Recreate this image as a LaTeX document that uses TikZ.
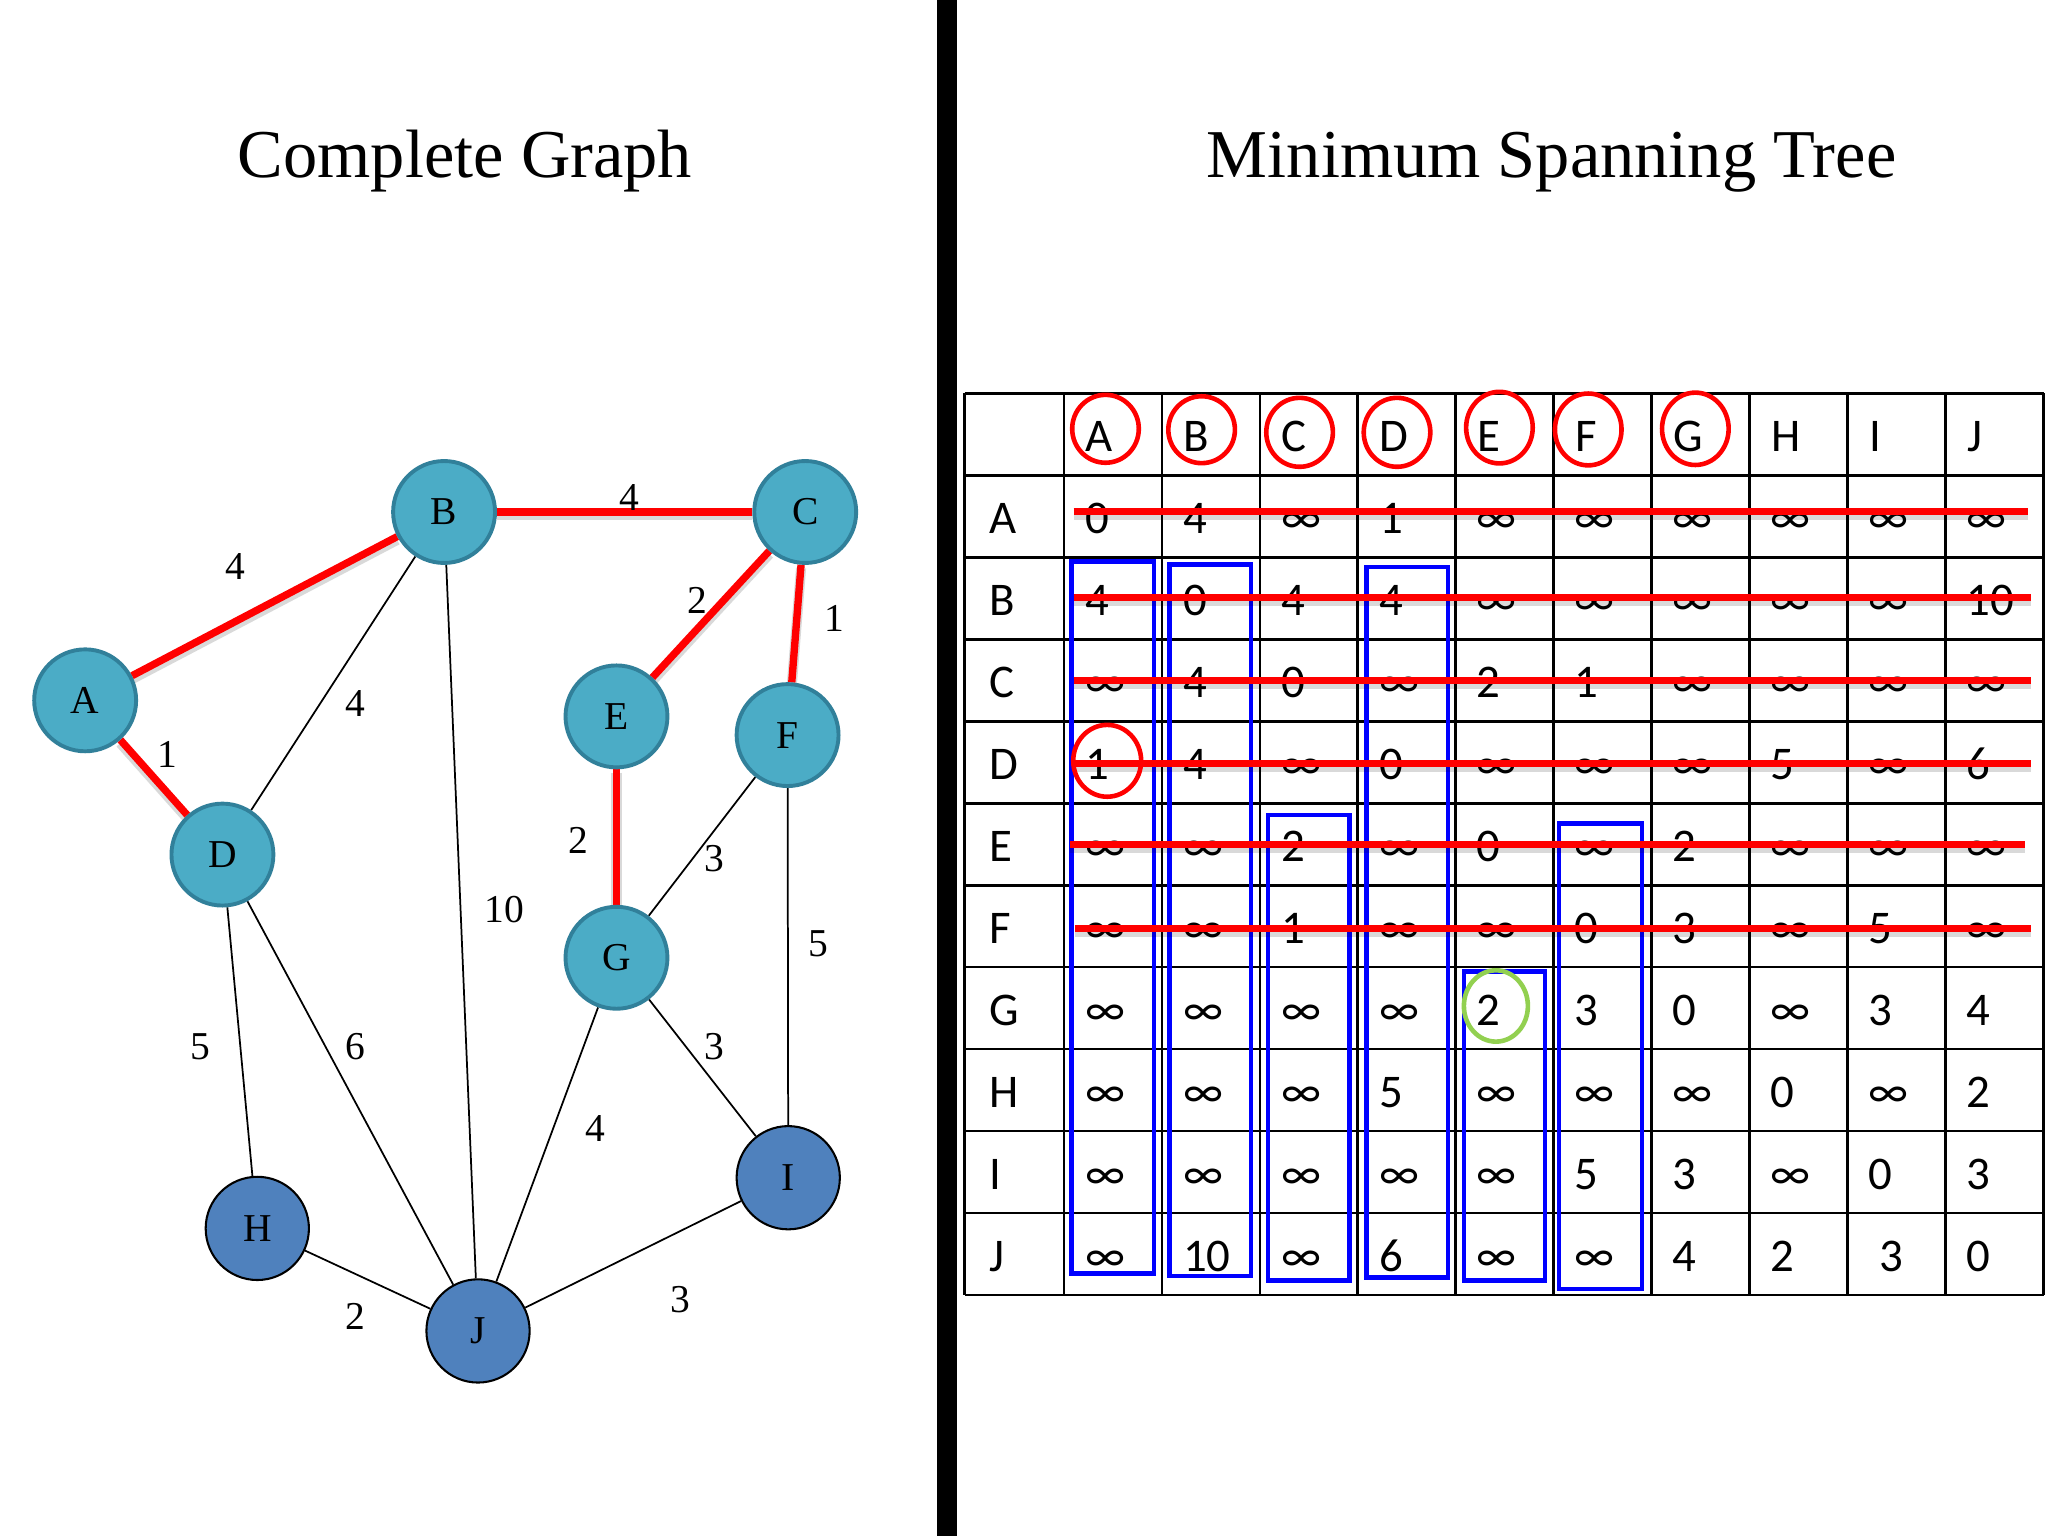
\documentclass[tikz,border=0pt]{standalone}
\usepackage{fontspec}
\setmainfont{Liberation Serif}
\newfontfamily\tabfont{Carlito}
\pgfdeclarelayer{bottom}
\pgfdeclarelayer{edges}
\pgfsetlayers{bottom,edges,main}
\definecolor{tealf}{HTML}{4BACC6}
\definecolor{tealb}{HTML}{31809A}
\definecolor{bluef}{HTML}{4F81BD}
\definecolor{mygreen}{HTML}{92D050}
\definecolor{myblue}{HTML}{0000FF}
\newcommand{\inff}{∞}
\tikzset{
  tnode/.style={circle, draw=tealb, fill=tealf, line width=0.85pt, minimum size=0.78cm, inner sep=0pt, font=\fontsize{8.6}{10}\selectfont},
  bnode/.style={circle, draw=black, fill=bluef, line width=0.45pt, minimum size=0.79cm, inner sep=0pt, font=\fontsize{8.6}{10}\selectfont},
  redge/.style={red, line width=1.6pt},
  rshadow/.style={black, opacity=0.15, line width=2.2pt, transform canvas={yshift=-0.025cm}},
  bedge/.style={black, line width=0.38pt},
  elabel/.style={font=\fontsize{8.6}{10}\selectfont, inner sep=0pt},
  titletext/.style={font=\fontsize{14.9}{18}\selectfont, inner sep=0pt, anchor=base},
  cell/.style={font=\tabfont\fontsize{10.2}{12}\selectfont, inner sep=0pt, anchor=base west},
  grid/.style={black, line width=0.6pt},
  strike/.style={red, line width=1.55pt},
  bluebox/.style={myblue, line width=1pt},
  redring/.style={red, line width=1pt},
  greenring/.style={mygreen, line width=1pt},
}
\begin{document}
\begin{tikzpicture}[x=0.01cm, y=-0.01cm]
\useasboundingbox (0,0) rectangle (1568,1176);
\begin{pgfonlayer}{bottom}
\fill[white] (0,0) rectangle (1568,1176);
\end{pgfonlayer}
% divider
\fill[black] (717.6,0) rectangle (732.5,1176);
% titles
\node[titletext] (t1) at (356,136) {Complete Graph};
\node[titletext] (t2) at (1188,136) {Minimum Spanning Tree};

% graph nodes
\node[tnode] (A) at (65.2,536.2) {A};
\node[tnode] (B) at (340,392) {B};
\node[tnode] (C) at (616.5,392) {C};
\node[tnode] (D) at (170.3,654.3) {D};
\node[tnode] (E) at (472,548.5) {E};
\node[tnode] (F) at (603,562.8) {F};
\node[tnode] (G) at (472,733.3) {G};
\node[bnode] (H) at (197,940.5) {H};
\node[bnode] (I) at (603.5,901.7) {I};
\node[bnode] (J) at (366,1019) {J};

\begin{pgfonlayer}{edges}
  \foreach \u/\v in {A/B, A/D, B/C, C/E, C/F, E/G} {
    \draw[rshadow] (\u) -- (\v);
    \draw[redge] (\u) -- (\v);
  }
  \foreach \u/\v in {B/D, B/J, D/H, D/J, F/G, F/I, G/J, G/I, H/J, I/J}
    \draw[bedge] (\u) -- (\v);
\end{pgfonlayer}

% edge labels
\node[elabel] (lAB) at (180.2,434) {4};
\node[elabel] (lAD) at (128.1,578) {1};
\node[elabel] (lBC) at (481.5,380.7) {4};
\node[elabel] (lCE) at (534,459.7) {2};
\node[elabel] (lCF) at (639,473.5) {1};
\node[elabel] (lBD) at (272.3,538.7) {4};
\node[elabel] (lBJ) at (386,696) {10};
\node[elabel] (lEG) at (442.5,643.5) {2};
\node[elabel] (lFG) at (547.3,657.2) {3};
\node[elabel] (lFI) at (626.8,722.5) {5};
\node[elabel] (lDH) at (153.7,801.5) {5};
\node[elabel] (lDJ) at (272.3,801.5) {6};
\node[elabel] (lGI) at (547.3,801.5) {3};
\node[elabel] (lGJ) at (456,864) {4};
\node[elabel] (lHJ) at (272.3,1008) {2};
\node[elabel] (lIJ) at (521,995.4) {3};

% table grid
\foreach \k in {0,...,11}
  \draw[grid] (738.5,301.2+62.75*\k) -- (1564.6,301.2+62.75*\k);
\draw[grid] (738.5,301.2) -- (738.5,991.45);
\foreach \k in {0,...,10}
  \draw[grid] (814.6+75*\k,301.2) -- (814.6+75*\k,991.45);

% header
\foreach \h [count=\j from 0] in {A,B,C,D,E,F,G,H,I,J}
  \node[cell] (h\j) at (814.6+75*\j+16,345.7) {\h};

% rows
\foreach \rn/\vals [count=\i from 1] in {
  A/{0,4,\inff,1,\inff,\inff,\inff,\inff,\inff,\inff},
  B/{4,0,4,4,\inff,\inff,\inff,\inff,\inff,10},
  C/{\inff,4,0,\inff,2,1,\inff,\inff,\inff,\inff},
  D/{1,4,\inff,0,\inff,\inff,\inff,5,\inff,6},
  E/{\inff,\inff,2,\inff,0,\inff,2,\inff,\inff,\inff},
  F/{\inff,\inff,1,\inff,\inff,0,3,\inff,5,\inff},
  G/{\inff,\inff,\inff,\inff,2,3,0,\inff,3,4},
  H/{\inff,\inff,\inff,5,\inff,\inff,\inff,0,\inff,2},
  I/{\inff,\inff,\inff,\inff,\inff,5,3,\inff,0,3},
  J/{\inff,10,\inff,6,\inff,\inff,4,2,\ 3,0}} {
  \node[cell] (r\i) at (757,301.2+62.75*\i+44.5) {\rn};
  \foreach \v [count=\j from 0] in \vals
    \node[cell] (c\i-\j) at (814.6+75*\j+15.5,301.2+62.75*\i+44.5) {\v};
}

% blue boxes
\draw[bluebox] (820.5,430) rectangle (883.6,975);
\draw[bluebox] (895.4,432) rectangle (957.8,977);
\draw[bluebox] (970.8,624) rectangle (1033.2,980.5);
\draw[bluebox] (1046.2,434) rectangle (1108.7,978);
\draw[bluebox] (1121,744) rectangle (1183,980.5);
\draw[bluebox] (1193.6,630.4) rectangle (1257,987);

% strike lines
\foreach \yy/\xa/\xb in {391.8/822/1553, 457.3/822/1555, 521.2/822/1555, 584.4/822/1555, 646.5/819/1550.5, 710.8/823/1555} {
  \draw[rshadow] (\xa,\yy) -- (\xb,\yy);
  \draw[strike] (\xa,\yy) -- (\xb,\yy);
}

% red rings in header
\foreach \cx/\cy/\ry in {846.4/328.3/26, 920/329/25.6, 995/331/26.4, 1069.6/331/26.4, 1148/327.4/27.4, 1216/328.8/27.5, 1298/328.3/27.7}
  \draw[redring] (\cx,\cy) ellipse [x radius=25.5, y radius=\ry];
\draw[redring] (847.7,582.5) ellipse [x radius=26, y radius=27.5];
\draw[greenring] (1145.3,770.2) ellipse [x radius=24.5, y radius=27.3];
\end{tikzpicture}
\end{document}
